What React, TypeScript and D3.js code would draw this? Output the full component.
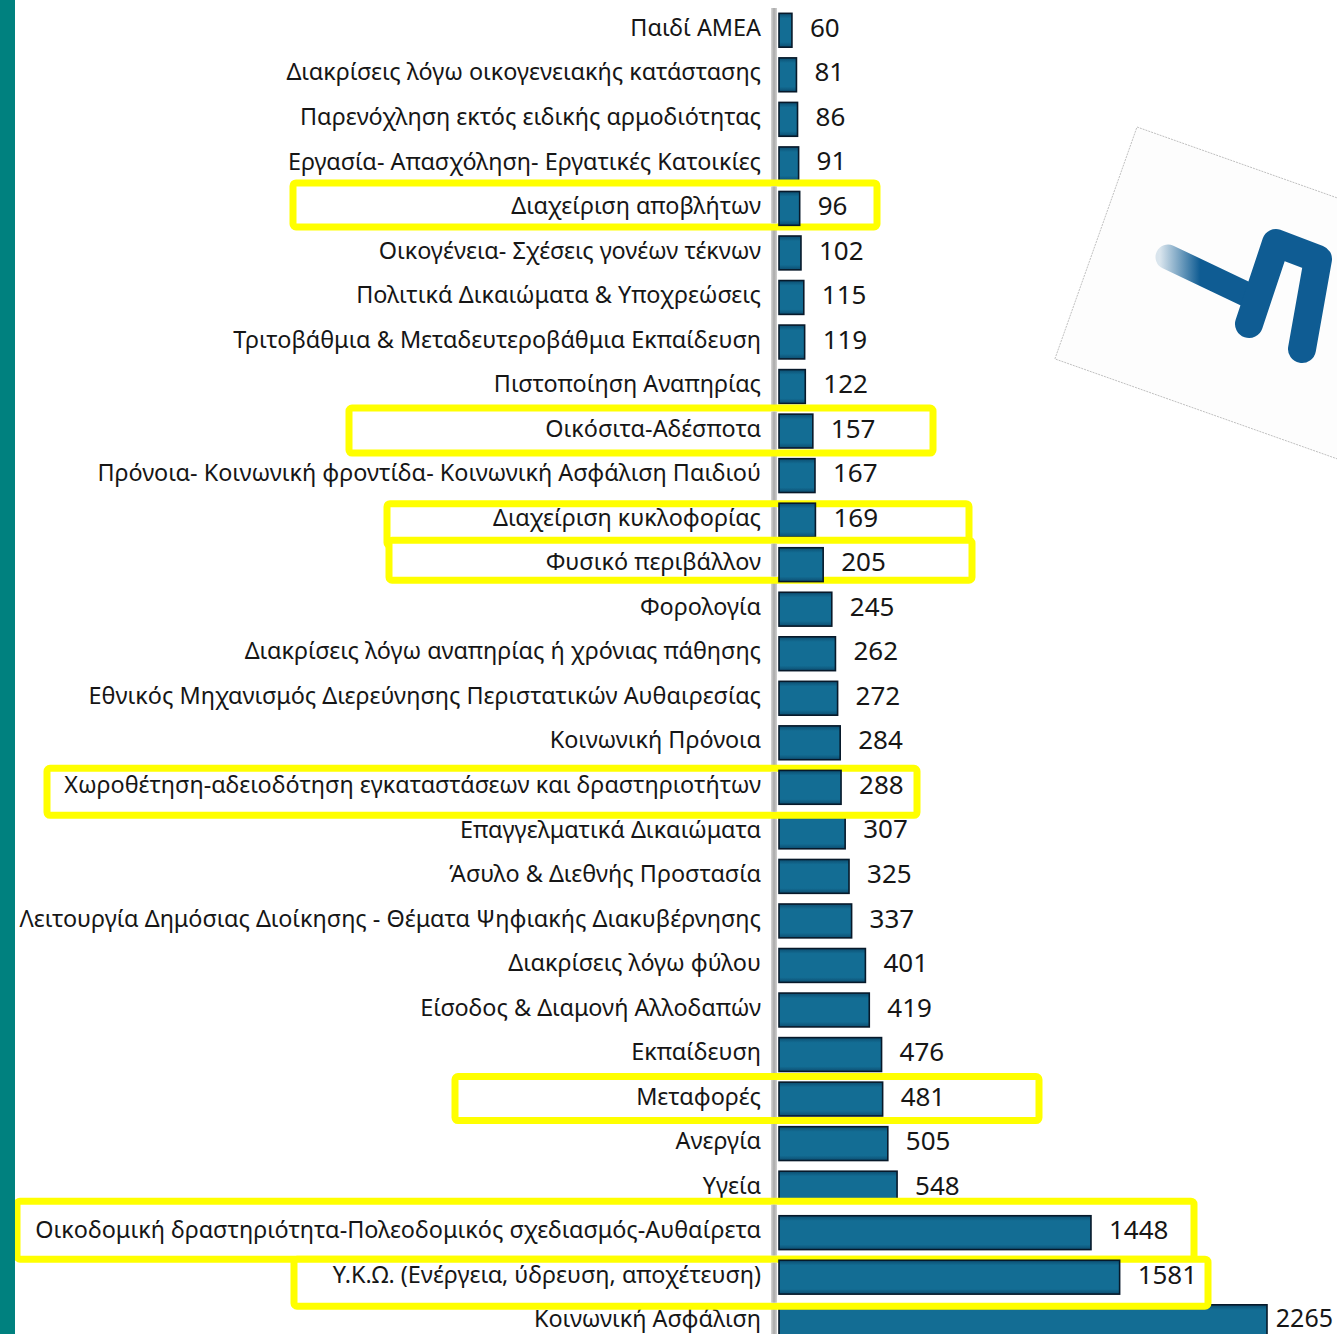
import React from "react";
import * as d3 from "d3";

const categories: string[] = [
  "Παιδί ΑΜΕΑ",
  "Διακρίσεις λόγω οικογενειακής κατάστασης",
  "Παρενόχληση εκτός ειδικής αρμοδιότητας",
  "Εργασία- Απασχόληση- Εργατικές Κατοικίες",
  "Διαχείριση αποβλήτων",
  "Οικογένεια- Σχέσεις γονέων τέκνων",
  "Πολιτικά Δικαιώματα & Υποχρεώσεις",
  "Τριτοβάθμια & Μεταδευτεροβάθμια Εκπαίδευση",
  "Πιστοποίηση Αναπηρίας",
  "Οικόσιτα-Αδέσποτα",
  "Πρόνοια- Κοινωνική φροντίδα- Κοινωνική Ασφάλιση Παιδιού",
  "Διαχείριση κυκλοφορίας",
  "Φυσικό περιβάλλον",
  "Φορολογία",
  "Διακρίσεις λόγω αναπηρίας ή χρόνιας πάθησης",
  "Εθνικός Μηχανισμός Διερεύνησης Περιστατικών Αυθαιρεσίας",
  "Κοινωνική Πρόνοια",
  "Χωροθέτηση-αδειοδότηση εγκαταστάσεων και δραστηριοτήτων",
  "Επαγγελματικά Δικαιώματα",
  "Άσυλο & Διεθνής Προστασία",
  "Λειτουργία Δημόσιας Διοίκησης - Θέματα Ψηφιακής Διακυβέρνησης",
  "Διακρίσεις λόγω φύλου",
  "Είσοδος & Διαμονή Αλλοδαπών",
  "Εκπαίδευση",
  "Μεταφορές",
  "Ανεργία",
  "Υγεία",
  "Οικοδομική δραστηριότητα-Πολεοδομικός σχεδιασμός-Αυθαίρετα",
  "Υ.Κ.Ω. (Ενέργεια, ύδρευση, αποχέτευση)",
  "Κοινωνική Ασφάλιση",
];

const values: number[] = [
  60, 81, 86, 91, 96, 102, 115, 119, 122, 157, 167, 169, 205, 245, 262, 272,
  284, 288, 307, 325, 337, 401, 419, 476, 481, 505, 548, 1448, 1581, 2265,
];

const highlighted: string[] = [
  "Διαχείριση αποβλήτων",
  "Οικόσιτα-Αδέσποτα",
  "Διαχείριση κυκλοφορίας",
  "Φυσικό περιβάλλον",
  "Χωροθέτηση-αδειοδότηση εγκαταστάσεων και δραστηριοτήτων",
  "Μεταφορές",
  "Οικοδομική δραστηριότητα-Πολεοδομικός σχεδιασμός-Αυθαίρετα",
  "Υ.Κ.Ω. (Ενέργεια, ύδρευση, αποχέτευση)",
];

// layout of the highlight frames (left, right, vertical shift, height)
const frameLayout: [number, number, number, number][] = [
  [293, 877, -1, 44],
  [349, 933, 2, 45],
  [387, 969, 7, 42],
  [389, 972, -2, 40],
  [47, 917, 7, 47],
  [455, 1039, 2, 44],
  [17, 1194, 0, 58],
  [294, 1208, 8, 47],
];

const W = 1337;
const H = 1334;
const AXIS_X = 771;
const LABEL_FONT = "'Noto Sans', sans-serif";

export default function App() {
  const data = categories.map((c, i) => ({ c, v: values[i] }));
  const y = d3
    .scaleBand<string>()
    .domain(categories)
    .range([5.5, 1341.5])
    .paddingInner(0.24)
    .paddingOuter(0.12);
  const x = d3.scaleLinear().domain([0, 2265]).range([779, 1267]);
  const bw = y.bandwidth();

  const row = (d: { c: string; v: number }, key: string) => {
    const cy = (y(d.c) as number) + bw / 2;
    const xe = x(d.v);
    const vx = xe + 18;
    const tooWide = vx + 60 > W;
    return (
      <g key={key}>
        <text
          x={761}
          y={cy}
          dy="0.35em"
          textAnchor="end"
          fontFamily={LABEL_FONT}
          fontSize={23.4}
          fill="#161616"
        >
          {d.c}
        </text>
        <rect
          x={x(0)}
          y={cy - bw / 2 + 2.5}
          width={xe - x(0)}
          height={bw}
          fill="url(#barGrad)"
          stroke="#07192a"
          strokeWidth={1.6}
        />
        <text
          x={tooWide ? W - 4 : vx}
          y={tooWide ? cy - 1 : cy}
          dy="0.35em"
          textAnchor={tooWide ? "end" : "start"}
          fontFamily={LABEL_FONT}
          fontSize={tooWide ? 25 : 26}
          fill="#161616"
        >
          {d.v}
        </text>
      </g>
    );
  };

  return (
    <svg
      width={W}
      height={H}
      style={{ position: "absolute", left: 0, top: 0, background: "#fff" }}
    >
      <defs>
        <linearGradient id="barGrad" x1="0" y1="0" x2="0" y2="1">
          <stop offset="0" stopColor="#0c4d70" />
          <stop offset="0.15" stopColor="#136d94" />
          <stop offset="0.85" stopColor="#136d94" />
          <stop offset="1" stopColor="#0c4d70" />
        </linearGradient>
        <linearGradient id="axisGrad" x1="0" y1="0" x2="1" y2="0">
          <stop offset="0" stopColor="#d8d8d8" />
          <stop offset="0.5" stopColor="#a9a9a9" />
          <stop offset="1" stopColor="#d0d0d0" />
        </linearGradient>
        <linearGradient
          id="shaftGrad"
          gradientUnits="userSpaceOnUse"
          x1="1160"
          y1="0"
          x2="1200"
          y2="0"
        >
          <stop offset="0" stopColor="#0f5c93" stopOpacity="0.15" />
          <stop offset="1" stopColor="#0f5c93" stopOpacity="1" />
        </linearGradient>
      </defs>

      <rect x={0} y={0} width={W} height={H} fill="#fff" />

      {/* logo card */}
      <g transform="translate(1137,127) rotate(19.5)">
        <rect x={0} y={0} width={420} height={246} fill="#fdfdfd" stroke="#b8b8b8" strokeWidth={0.8} strokeDasharray="2 1" />
      </g>
      <g fill="none" strokeLinecap="round" strokeLinejoin="round">
        <path d="M1168,257 L1252,297" stroke="url(#shaftGrad)" strokeWidth={25} />
        <path d="M1249,324 L1276,243 L1318,259 L1302,349" stroke="#0f5c93" strokeWidth={28} />
      </g>

      {/* axis line */}
      <rect x={AXIS_X} y={8} width={6} height={H - 8} fill="url(#axisGrad)" />

      {data.map((d, i) => row(d, "r" + i))}

      {highlighted.map((c, k) => {
        const d = data.find((e) => e.c === c)!;
        const [x0, x1, dy, h] = frameLayout[k];
        const cy = (y(c) as number) + bw / 2 + dy;
        return (
          <g key={"h" + k}>
            <rect
              x={x0}
              y={cy - h / 2}
              width={x1 - x0}
              height={h}
              rx={3}
              fill="#fff"
              stroke="#ffff00"
              strokeWidth={7}
            />
            <rect
              x={AXIS_X}
              y={cy - h / 2 + 3.5}
              width={6}
              height={h - 7}
              fill="url(#axisGrad)"
            />
            {row(d, "hr" + k)}
          </g>
        );
      })}

      {/* teal border strip */}
      <rect x={0} y={0} width={15} height={H} fill="#00817f" />
    </svg>
  );
}
